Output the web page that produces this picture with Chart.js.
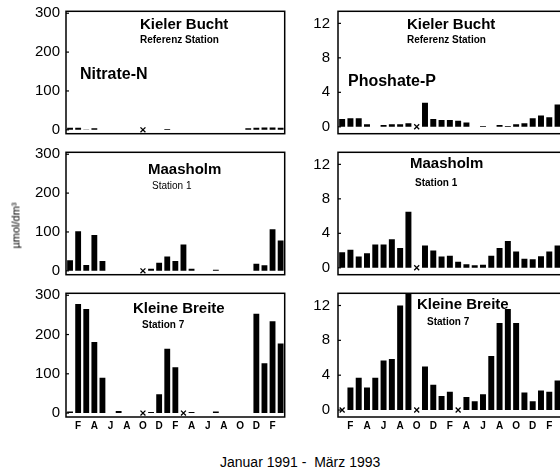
<!DOCTYPE html>
<html>
<head>
<meta charset="utf-8">
<script src="https://cdn.jsdelivr.net/npm/chart.js@4.4.1/dist/chart.umd.min.js"></script>
<style>
  html, body { margin: 0; padding: 0; background: #fff; }
  body { width: 560px; height: 475px; position: relative; overflow: hidden; font-family: "Liberation Sans", Arial, sans-serif; color: #000; }
  canvas { position: absolute; }
  .lbl { position: absolute; line-height: 1; white-space: nowrap; }
  .big { font-size: 15px; font-weight: bold; }
  .sub { font-size: 10px; font-weight: bold; }
</style>
</head>
<body>
<canvas id="nk" width="270" height="133" style="left:20px;top:6px"></canvas>
<canvas id="pk" width="265" height="133" style="left:302px;top:6px"></canvas>
<canvas id="nm" width="270" height="133" style="left:20px;top:147px"></canvas>
<canvas id="pm" width="265" height="133" style="left:302px;top:147px"></canvas>
<canvas id="nb" width="270" height="147" style="left:20px;top:288px"></canvas>
<canvas id="pb" width="265" height="147" style="left:302px;top:288px"></canvas>

<div class="lbl big" style="left:140px;top:16px">Kieler Bucht</div>
<div class="lbl sub" style="left:140px;top:35px">Referenz Station</div>
<div class="lbl big" style="left:80px;top:66px;font-size:16px">Nitrate-N</div>

<div class="lbl big" style="left:407px;top:16px">Kieler Bucht</div>
<div class="lbl sub" style="left:407px;top:35px">Referenz Station</div>
<div class="lbl big" style="left:348px;top:73px;font-size:16px">Phoshate-P</div>

<div class="lbl big" style="left:148px;top:161px">Maasholm</div>
<div class="lbl" style="left:152px;top:181px;font-size:10px">Station 1</div>

<div class="lbl big" style="left:410px;top:155px">Maasholm</div>
<div class="lbl sub" style="left:415px;top:178px">Station 1</div>

<div class="lbl big" style="left:133px;top:300px">Kleine Breite</div>
<div class="lbl sub" style="left:142px;top:320px">Station 7</div>

<div class="lbl big" style="left:417px;top:296px">Kleine Breite</div>
<div class="lbl sub" style="left:427px;top:317px">Station 7</div>

<div class="lbl" style="left:-14px;top:220px;font-size:11px;transform:rotate(-90deg);width:60px;text-align:center">µmol/dm³</div>
<div class="lbl" style="left:220px;top:455px;font-size:14px">Januar 1991 -&nbsp; März 1993</div>

<script>
// Jan 1991 .. Mar 1993
const months = ['J','F','M','A','M','J','J','A','S','O','N','D','J','F','M','A','M','J','J','A','S','O','N','D','J','F','M'];

const nitrateTicks = [0, 100, 200, 300];
const phosphateTicks = [0, 4, 8, 12];

// Nitrate-N (µmol/dm³)
const nitrateKieler   = [5,5,1,4,0,0,0,0,0,null,0,0,2,0,0,0,0,0,0,0,0,0,4,5,6,6,5];
const nitrateMaasholm = [27,102,15,92,25,0,0,0,0,null,5,21,37,25,68,5,0,0,3,0,0,0,0,18,14,107,78];
const nitrateKleine   = [4,278,265,181,90,0,5,0,0,null,3,48,164,117,null,3,0,0,4,0,0,0,0,253,127,234,177];

// Phosphate-P (µmol/dm³)
const phosKieler   = [0.9,1.0,1.0,0.3,0,0.2,0.3,0.3,0.4,null,2.8,0.9,0.8,0.8,0.7,0.5,0,0.1,0,0.2,0.1,0.3,0.4,1.0,1.3,1.1,2.6];
const phosMaasholm = [1.8,2.1,1.3,1.7,2.7,2.7,3.3,2.3,6.5,null,2.6,2.0,1.3,1.4,0.7,0.4,0.3,0.35,1.4,2.3,3.1,1.9,1.05,1.0,1.35,1.9,2.6];
const phosKleine   = [null,2.6,3.7,2.6,3.7,5.7,5.85,12.0,13.4,null,5.0,2.9,1.6,2.1,null,1.5,1.0,1.8,6.2,10.0,11.6,10.0,2.0,1.0,2.25,2.1,3.4];

// months without a sample (drawn as x)
const missingNK = [9];
const missingPK = [9];
const missingNM = [9];
const missingPM = [9];
const missingNB = [9, 14];
const missingPB = [0, 9, 14];

const framePlugin = {
    id: 'frame',
    afterDraw(chart) {
        const { ctx, chartArea: a } = chart;
        const y = chart.scales.y;
        ctx.save();
        ctx.strokeStyle = '#000';
        ctx.lineWidth = 1.5;
        ctx.strokeRect(a.left, a.top, a.right - a.left, a.bottom - a.top);
        ctx.lineWidth = 1.2;
        y.ticks.forEach(t => {
            const py = y.getPixelForValue(t.value);
            ctx.beginPath();
            ctx.moveTo(a.left, py);
            ctx.lineTo(a.left + 3, py);
            ctx.stroke();
        });
        ctx.restore();
    }
};

function makePanel(id, values, missing, opts) {
    new Chart(document.getElementById(id), {
        type: 'bar',
        data: {
            labels: months,
            datasets: [
                {
                    type: 'bar',
                    data: values,
                    backgroundColor: '#000',
                    barPercentage: 0.72,
                    categoryPercentage: 1,
                    order: 2,
                },
                {
                    type: 'line',
                    data: months.map((m, i) => missing.includes(i) ? 0 : null),
                    showLine: false,
                    pointStyle: 'crossRot',
                    pointRadius: 3.5,
                    pointBorderColor: '#000',
                    pointBackgroundColor: '#000',
                    pointBorderWidth: 1.3,
                    order: 1,
                },
            ]
        },
        options: {
            responsive: false,
            animation: false,
            devicePixelRatio: 1,
            layout: { padding: { top: 4, right: 4, left: 0, bottom: 0 } },
            plugins: {
                legend: { display: false },
                tooltip: { enabled: false },
            },
            scales: {
                x: {
                    grid: { display: false, drawTicks: false },
                    border: { display: false },
                    ticks: {
                        display: opts.showX,
                        autoSkip: false,
                        maxRotation: 0,
                        padding: 3,
                        color: '#000',
                        font: { family: 'Liberation Sans', size: 10, weight: 'bold' },
                        callback: (v, i) => i % 2 === 1 ? months[i] : '',
                    },
                    afterFit: s => {
                        s.height = opts.showX ? 18 : 4;
                        s.paddingLeft = 0;
                        s.paddingRight = 0;
                    },
                },
                y: {
                    min: opts.min,
                    max: opts.max,
                    grid: { display: false, drawTicks: false },
                    border: { display: false },
                    ticks: {
                        padding: opts.pad,
                        color: '#000',
                        font: { family: 'Liberation Sans', size: 15 },
                    },
                    afterBuildTicks: s => { s.ticks = opts.ticks.map(v => ({ value: v })); },
                    afterFit: s => {
                        s.width = opts.yWidth;
                        s.paddingTop = 0;
                        s.paddingBottom = 0;
                    },
                }
            }
        },
        plugins: [framePlugin]
    });
}

const leftOpts = { min: -10, max: 305, ticks: nitrateTicks, yWidth: 46, pad: 6 };
const rightOpts = { min: -0.8, max: 13.4, ticks: phosphateTicks, yWidth: 36, pad: 8 };

makePanel('nk', nitrateKieler, missingNK, { ...leftOpts, showX: false });
makePanel('pk', phosKieler, missingPK, { ...rightOpts, showX: false });
makePanel('nm', nitrateMaasholm, missingNM, { ...leftOpts, showX: false });
makePanel('pm', phosMaasholm, missingPM, { ...rightOpts, showX: false });
makePanel('nb', nitrateKleine, missingNB, { ...leftOpts, showX: true });
makePanel('pb', phosKleine, missingPB, { ...rightOpts, showX: true });
</script>
</body>
</html>
